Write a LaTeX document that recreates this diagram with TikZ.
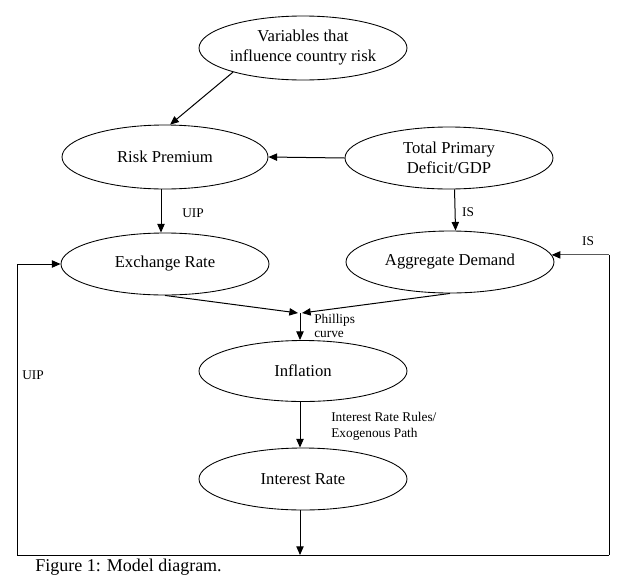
\documentclass[tikz,border=0pt]{standalone}
\usepackage{fontspec}
\setmainfont{Liberation Serif}
\usetikzlibrary{shapes.geometric,arrows.meta}
\begin{document}
\begin{tikzpicture}[x=0.75pt,y=-0.75pt,
  oval/.style={draw,ellipse,line width=0.65pt,inner sep=0pt,minimum width=156pt,minimum height=46.5pt},
  txt/.style={inner sep=0pt,align=center,font=\fontsize{12.5}{15}\selectfont},
  small/.style={inner sep=0pt,align=left,font=\fontsize{10}{12}\selectfont},
  arr/.style={line width=0.75pt,-{Triangle[length=6.5pt,width=5.5pt,color=black]}},
  ln/.style={line width=0.75pt}]
\useasboundingbox (0,0) rectangle (628,586);
% ellipses
\node[oval,minimum height=48pt] (var) at (303,48) {};
\node[oval,minimum width=154.5pt,minimum height=48pt] (rp) at (165,157) {};
\node[oval] (tp) at (449,158) {};
\node[oval] (er) at (165,264) {};
\node[oval] (ad) at (450,262) {};
\node[oval,minimum height=45.75pt] (inf) at (303,371) {};
\node[oval] (ir) at (303,479) {};
% texts
\node[txt] (tvar) at (var) {Variables that\\influence country risk};
\node[txt] (trp) at (rp) {Risk Premium};
\node[txt] (ttp) at (tp) {Total Primary\\Deficit/GDP};
\node[txt] (ter) at (er) {Exchange Rate};
\node[txt] (tad) at (ad) {Aggregate Demand};
\node[txt] (tinf) at (inf) {Inflation};
\node[txt] (tir) at (ir) {Interest Rate};
% coordinates
\coordinate (jl) at (298,313);
\coordinate (jr) at (302,313);
\coordinate (j) at (300,313);
\coordinate (c1) at (17,555);
\coordinate (c2) at (609,555);
\coordinate (c3) at (c2 |- ad.4);
% arrows
\draw[arr] (var.199) -- (rp.81);
\draw[arr] (tp.west) -- (rp.east);
\draw[arr] ([xshift=-3pt]rp.south) -- ([xshift=-3pt]er.north);
\draw[arr] (tp.-80) -- (ad.80);
\draw[arr] (er.south) -- (jl);
\draw[arr] (ad.south) -- (jr);
\draw[arr] (j) -- (j |- inf.north);
\draw[arr] (j |- inf.south) -- (j |- ir.north);
\draw[arr] (j |- ir.south) -- (j |- c1);
\draw[ln] (c1) -- (c2);
\draw[arr] (c1) |- (er.west);
\draw[ln] (c2) -- (c3);
\draw[arr,draw=black!65] (c3) -- (ad.4);
% labels
\node[small] (luip) at (193,213) {UIP};
\node[small] (lis) at (468,212) {IS};
\node[small] (lis2) at (588,241) {IS};
\node[small] (luip2) at (33,375) {UIP};
\node[small,anchor=west,font=\fontsize{10}{10.5}\selectfont] (lph) at (314,326) {Phillips\\curve};
\node[small,anchor=west] (lrule) at (331,426) {Interest Rate Rules/\\Exogenous Path};
\node[inner sep=0pt,anchor=west,font=\fontsize{13.5}{16}\selectfont] (cap) at (35,567) {Figure 1: Model diagram.};
\end{tikzpicture}
\end{document}
